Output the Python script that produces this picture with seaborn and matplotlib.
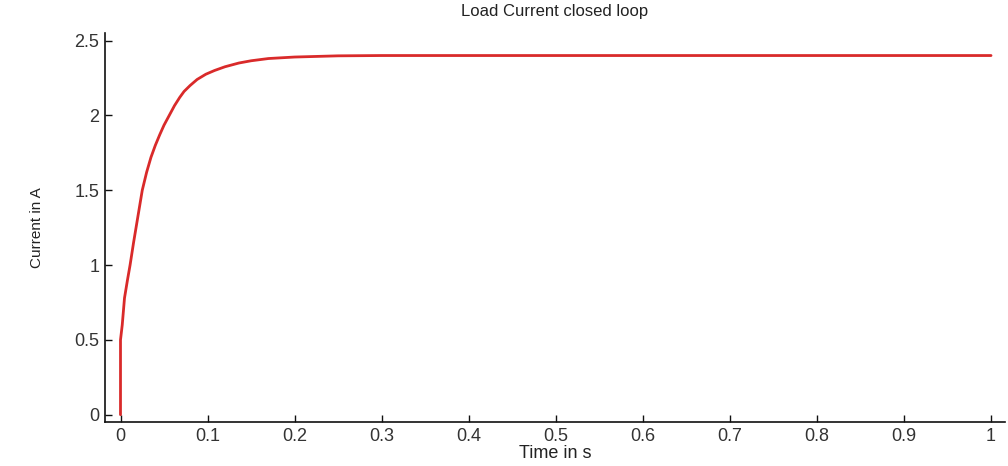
import matplotlib
matplotlib.use('Agg')
import matplotlib.pyplot as plt
import seaborn as sns
import pandas as pd

# values
time_s = [0, 0, 0.002, 0.0046, 0.008, 0.011, 0.015, 0.019, 0.025, 0.030, 0.035,
          0.040, 0.045, 0.050, 0.056, 0.062, 0.068, 0.073, 0.080, 0.088, 0.098,
          0.108, 0.120, 0.136, 0.150, 0.170, 0.2, 0.25, 0.3, 0.5, 0.7, 1.0]
current_a = [0, 0.5, 0.6, 0.78, 0.9, 1.0, 1.15, 1.29, 1.5, 1.62, 1.72,
             1.80, 1.87, 1.935, 2.0, 2.065, 2.12, 2.16, 2.20, 2.24, 2.275,
             2.30, 2.325, 2.35, 2.365, 2.38, 2.39, 2.398, 2.4, 2.4, 2.4, 2.4]
x_ticks = [0, 0.1, 0.2, 0.3, 0.4, 0.5, 0.6, 0.7, 0.8, 0.9, 1]
x_labels = ['0', '0.1', '0.2', '0.3', '0.4', '0.5', '0.6', '0.7', '0.8', '0.9', '1']
y_ticks = [0, 0.5, 1, 1.5, 2, 2.5]
y_labels = ['0', '0.5', '1', '1.5', '2', '2.5']

df = pd.DataFrame({'t': time_s, 'i': current_a})

sns.set_style('white')
plt.rcParams['font.family'] = ['Liberation Sans', 'DejaVu Sans']

fig = plt.figure(figsize=(10.08, 4.66), dpi=100)
ax = fig.add_axes([0.104, 0.094, 0.893, 0.835])

sns.lineplot(data=df, x='t', y='i', estimator=None, sort=False,
             color='#d92a2a', linewidth=2.0, ax=ax)

ax.set_xlim(-0.018, 1.016)
ax.set_ylim(-0.05, 2.55)
ax.set_xticks(x_ticks)
ax.set_xticklabels(x_labels)
ax.set_yticks(y_ticks)
ax.set_yticklabels(y_labels)
ax.tick_params(bottom=True, left=True, direction='in', length=5, width=1,
               labelsize=13, colors='#111111', labelcolor='#333333', pad=4)
sns.despine(ax=ax)
for s in ['left', 'bottom']:
    ax.spines[s].set_color('#111111')
    ax.spines[s].set_linewidth(1.2)

ax.set_xlabel('Time in s', fontsize=13, labelpad=0, color='#222222')
ax.set_ylabel('Current in A', fontsize=11, labelpad=22, color='#222222')
ax.set_title('Load Current closed loop', fontsize=12, pad=12, color='#222222')

fig.savefig('out.png', dpi=100)
